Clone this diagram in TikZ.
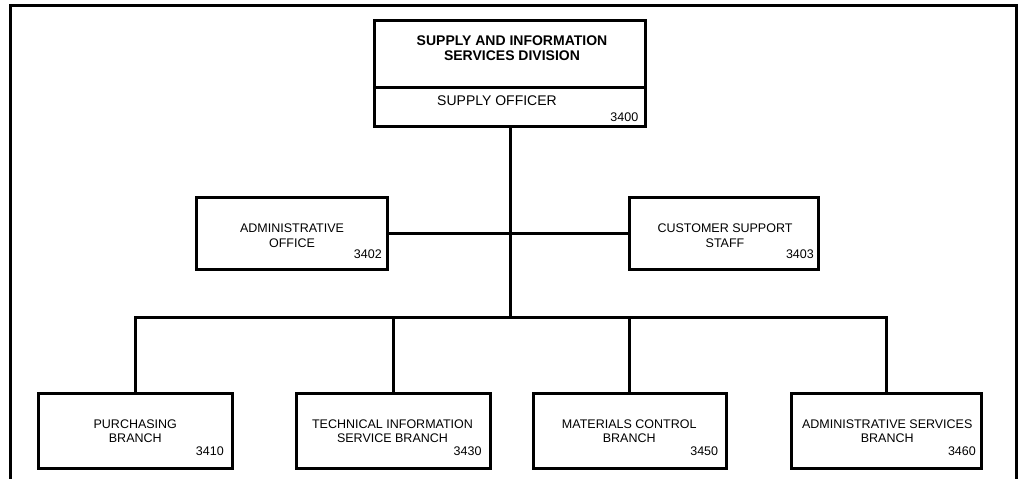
\documentclass[tikz,border=0pt]{standalone}
\usepackage{fontspec}
\setmainfont{Liberation Sans}
\begin{document}
\begin{tikzpicture}[x=1pt,y=-1pt,
  box/.style={draw, line width=3pt, inner sep=0pt},
  conn/.style={line width=3pt, line join=miter},
  lbl/.style={font=\fontsize{12.5}{15}\selectfont, align=center, inner sep=0pt},
  lblb/.style={font=\fontsize{12.5}{14}\selectfont, align=center, inner sep=0pt},
  ttl/.style={font=\fontsize{14}{15}\selectfont\bfseries, align=center, inner sep=0pt},
  big/.style={font=\fontsize{14}{15}\selectfont, align=center, inner sep=0pt},
  num/.style={font=\fontsize{12.5}{15}\selectfont, anchor=east, inner sep=0pt}]
\useasboundingbox (0,0) rectangle (1020,479);
% outer frame (open at bottom)
\coordinate (fbl) at (10.5,481);
\coordinate (ftl) at (10.5,5.5);
\coordinate (ftr) at (1016.5,5.5);
\coordinate (fbr) at (1016.5,481);
\draw[conn] (fbl) -- (ftl) -- (ftr) -- (fbr);

% top box
\node[box, minimum width=271pt, minimum height=106pt] (top) at (510,73.5) {};
\coordinate (dl) at (374.5,87.5);
\coordinate (dr) at (645.5,87.5);
\draw[conn] (dl) -- (dr);
\node[ttl] (title) at (512,48.5) {SUPPLY AND INFORMATION\\SERVICES DIVISION};
\node[big] (so) at (497,101) {SUPPLY OFFICER};
\node[num] (n3400) at (638.5,117) {3400};

% staff boxes
\node[box, minimum width=191pt, minimum height=72pt] (admin) at (291.5,233.5) {};
\node[lbl] (admintxt) at (292,235.5) {ADMINISTRATIVE\\OFFICE};
\node[num] (n3402) at (382,254) {3402};

\node[box, minimum width=189pt, minimum height=72pt] (cust) at (723.5,233.5) {};
\node[lbl] (custtxt) at (725,235.5) {CUSTOMER SUPPORT\\STAFF};
\node[num] (n3403) at (814,254) {3403};

% branch boxes
\node[box, minimum width=194pt, minimum height=75pt] (purch) at (135.7,430.75) {};
\node[lblb] (purchtxt) at (135.3,431.3) {PURCHASING\\BRANCH};
\node[num] (n3410) at (224,451) {3410};

\node[box, minimum width=194pt, minimum height=75pt] (tech) at (393.2,430.75) {};
\node[lblb] (techtxt) at (392.5,431.3) {TECHNICAL INFORMATION\\SERVICE BRANCH};
\node[num] (n3430) at (481.7,451) {3430};

\node[box, minimum width=193pt, minimum height=75pt] (mat) at (629.7,430.75) {};
\node[lblb] (mattxt) at (629.2,431.3) {MATERIALS CONTROL\\BRANCH};
\node[num] (n3450) at (718.3,451) {3450};

\node[box, minimum width=190pt, minimum height=75pt] (asvc) at (886,430.75) {};
\node[lblb] (asvctxt) at (887.2,431.3) {ADMINISTRATIVE SERVICES\\BRANCH};
\node[num] (n3460) at (976,451) {3460};

% connectors
\coordinate (hub) at (510,317.5);
\draw[conn] (top.south) -- (hub);
\draw[conn] (admin.east) -- (cust.west);
\draw[conn] (purch.north) -- (purch.north |- hub) -- (asvc.north |- hub) -- (asvc.north);
\draw[conn] (tech.north) -- (tech.north |- hub);
\draw[conn] (mat.north) -- (mat.north |- hub);
\end{tikzpicture}
\end{document}
